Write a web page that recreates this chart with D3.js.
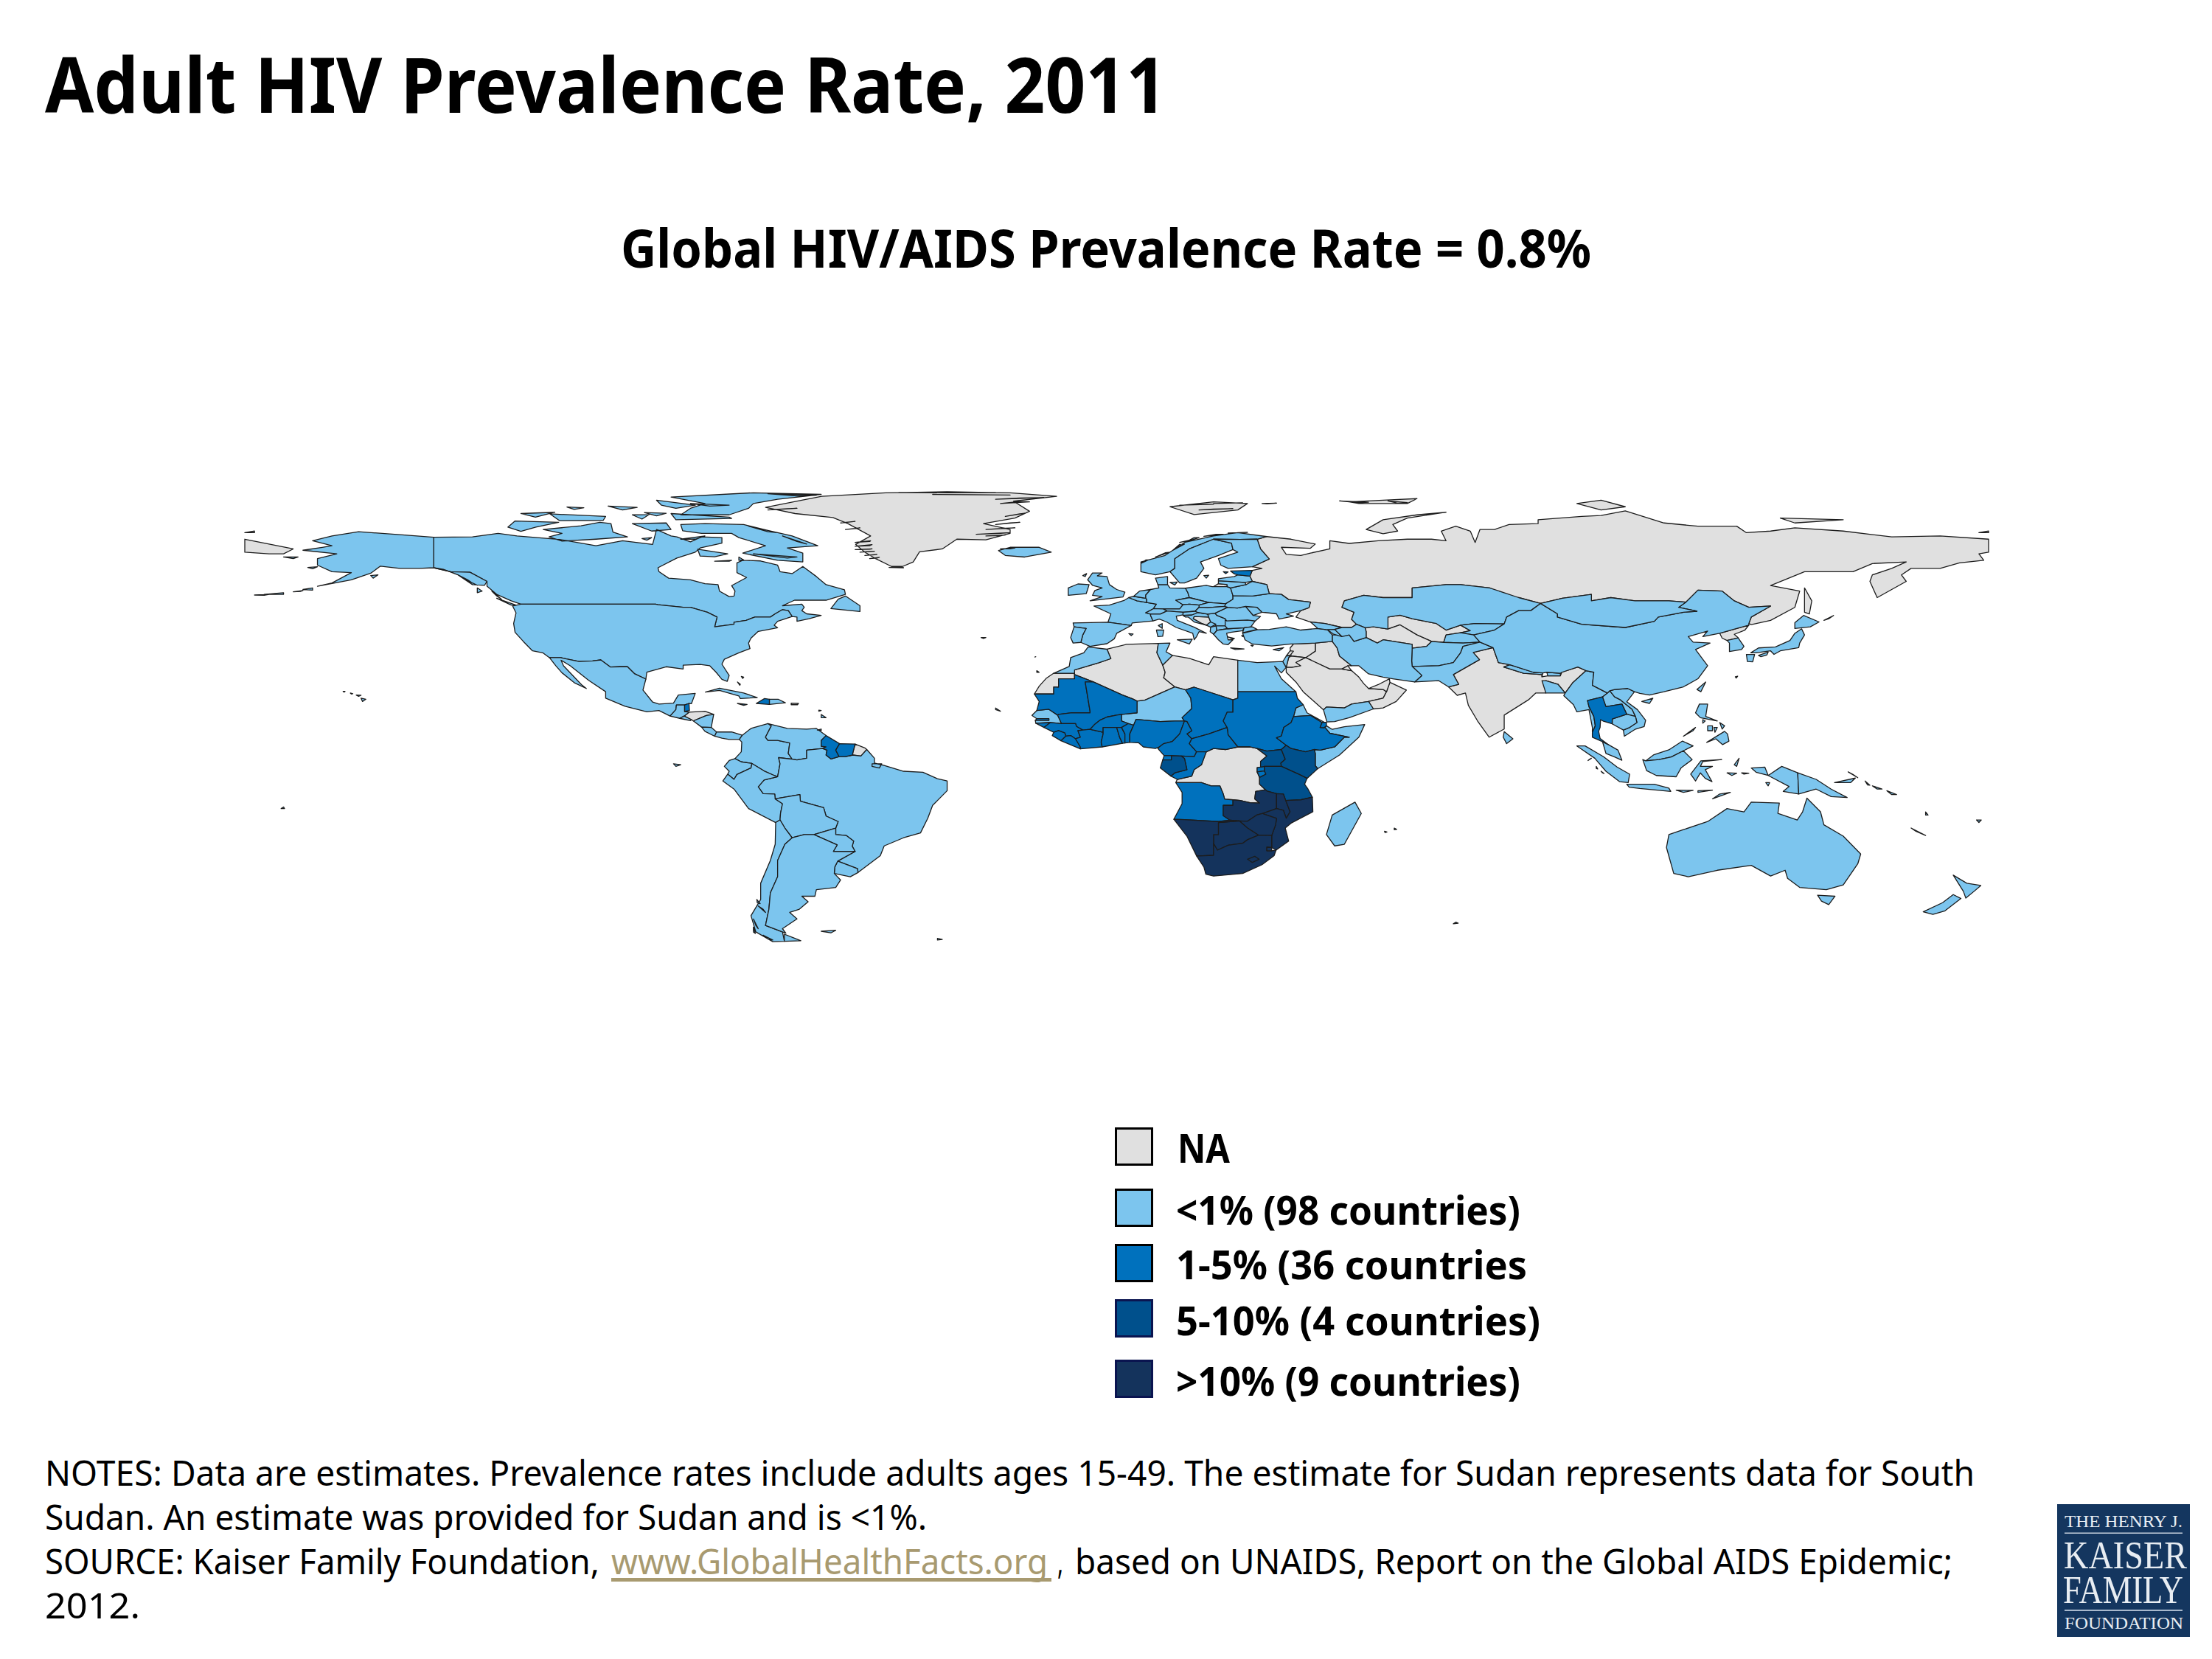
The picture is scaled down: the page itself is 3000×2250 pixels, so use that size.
<!DOCTYPE html>
<html><head><meta charset="utf-8"><title>Adult HIV Prevalence Rate, 2011</title>
<script src="https://cdn.jsdelivr.net/npm/d3@7"></script>
<style>html,body{margin:0;background:#fff}svg{display:block}</style></head><body>
<svg id="c" width="3000" height="2250" viewBox="0 0 3000 2250"></svg>
<script>
const naShapes = [
["Greenland","-72.5,78.8 -65,81 -60.9,82.2 -47.7,83.3 -35,83.6 -22,83.3 -12.4,82.2 -21.3,80.7 -18,77.6 -21,75.5 -27.5,73.8 -22,72 -22,70.8 -27,68.8 -33,69 -36,66 -40.7,65.1 -42,62 -44.2,60.6 -46.5,60.6 -50,63.2 -52,65 -53.9,67.4 -50.8,70 -55.5,73.8 -58.6,75.7 -66.4,76.9|-29,70.5 -22,71 -24,70.8|-27,72 -21,72.5 -23,72.4|-25,73.5 -20,74.2 -22,74|-23,76 -19,77 -20,76.8|-24,80 -18,80.5 -20,80.6|-25,81.3 -15,81.8 -20,81.7|-45,83.4 -25,83.4 -35,83.3|-38,82.8 -22,82.6 -30,82.7|-54,66.8 -50.5,67.3 -51,67|-54,68 -50.8,68.5 -51,68.3|-54,65.8 -50.5,66 -51,65.9|-53,65 -50,65.3 -51,65.2|-52,64 -49.5,64.3 -50,64.2|-51,63 -49,63.4 -49.5,63.2|-56,72 -53,72.5 -54,72.3|-57,74 -54,74.5 -55,74.3|-47,60.3 -44,60.2 -45,60.5|-27,70 -23,70.3 -24,70.1|-72,78 -66,78.5 -68,78.4"],
["Russia","31,69.8 36,69 41,67.5 40,66.2 34,66.5 35,64.3 38,64 40,64.7 44,66 44,68.5 48,67.7 54,68.5 60,69 65,69 68,68.5 67,71.5 70,73 73,71.5 74,68 75,72 78,72 81,73.5 87,73.8 87,75 96,76 100,76.3 105,77.7 113,74 120,73 128,73 130,71 135,71.5 140,72.5 150,71.5 160,69.7 170,70 180,69 180,65 178,64.5 179,62.5 174,61.7 170,60 164,60 162,58 163,56 157,51 155.5,56 156,58 160,60 163,62 156,61.5 152,59 142,59 135,54.7 141,53 140,48 135,44 131,42.7 130.5,43 131,45 135,48.4 130.5,48 127.5,50 125,53 120,53.3 117.5,49.6 114,50 107,50 102,51 98,50 98,52 92,50.8 87.5,49.2 83,51 80,51 77,54 71,55 68,55 61,54 61,51 55,51 51,51.7 47,50 46.5,48 49,46.5 48.5,44.3 49.5,42.8 48.5,41.8 46.5,41.8 43,43 40,43.5 37,45 38,47 39.7,47.9 40,49.6 35.5,50.4 34,52 31.5,52.2 31,55 28,56 27.5,57.6 28,59.4 30,60 28,60.5 31.5,62.9 29.7,66 29,69|-180,65 -175,64.5 -172,64.5 -170,66 -175,67.5 -180,69|20,54.4 22.8,54.4 22.8,55 21,55.3|142,54 143.5,50 143,46 142,46.5 142,52|51.5,72 55,75 62,76.5 68,77.3 60,75.5 57,73.5 58,71.5 55,70.7|48,80.5 55,81 62,81.5 60,80 50,80|46,80.8 52,80.4 50,80.2|56,80.8 60,80.3 58,80.1|95,80 100,81 105,79 100,78|137,75.5 150,75 140,74|-180,71 -178,71.5 -178,71|178,71 180,71.5 180,71"],
["Svalbard","11,79 16,76.6 25,78 27,80 20,80.5|13,79.5 20,79.8 16,79.6|17,78 24,78.4 20,78.3|20,80 26,80.2 23,80.1|30,80 33,80.1 31,79.9"],
["Honduras","-89.3,14.5 -88.3,15.7 -85,16 -83.2,15 -84.7,14.7 -86,13.9 -87.4,13 -87.8,13.4"],
["French Guiana","-54,5.9 -52,4.7 -51.6,4.2 -52.8,2.2 -54.5,2.5 -54.5,3"],
["Puerto Rico","-67.2,18.5 -65.7,18.4 -65.9,18 -67.2,18"],
["W. Sahara","-13,27.7 -8.7,27.7 -8.7,26 -12,26 -12,23.4 -13,23.5 -13,21.3 -17,21.3 -16,23.7 -14.5,26.2"],
["Algeria","-8.7,27.7 -8.7,28.7 -3.7,30.9 -1.2,32.2 -2,35.1 2,36.6 8.6,36.9 8.3,34 9.5,30.2 10,28 9.7,26.3 12,23.5 5.8,19.4 4.2,19.1 3.3,19.8 1.2,21 -4.8,25 -8.7,27.3"],
["Libya","11.5,33.2 15,32.3 19,30.3 20,32.8 25,31.7 25,20 24,19.5 16,23.4 14.2,22.6 12,23.5 9.7,26.3 10,28 9.5,30.2"],
["DR Congo","12.2,-6 12.5,-5 14,-4.5 15.5,-4 16,-2 17.5,-0.5 18,1.5 18.5,3.5 20,4.5 22.5,4.2 25,5 27.5,5 29,4.5 31,2.2 29.7,0.5 29.7,-1.2 29,-1.4 29,-2.7 29.5,-4.4 29.5,-6.5 30.7,-8.2 28.7,-8.7 28.5,-11 29.5,-12.3 27.5,-12.2 25.5,-11.5 24,-11.3 22.3,-11.1 22,-9.5 21.3,-7 19.5,-7 17.5,-6"],
["Bosnia","16,45.2 19,45 19.4,43.5 18.5,42.5 17.6,43 15.8,44.5"],
["Uzbekistan","56,45 58.5,45.6 61,44.5 66,43 68,41 71,42.5 73,40.8 71,40.2 68,39.5 67.5,37.2 65,37.5 62,39.5 58.5,42.6 56,41.3"],
["Turkmenistan","51.3,41.7 53,42 56,41.3 58.5,42.6 62,39.5 65,37.5 64,36 61,35.4 61,36.6 55,38 53.8,37 51.5,38.7 51.5,40.5"],
["Iraq","39,32.5 41,34.5 41,37 44.5,37.5 45.5,35.5 46,33 48.5,30 47.7,30 46.5,29 44,29"],
["Syria","36,33 39,32.5 41,34.5 41,37 36.5,36.7 35.8,35.5"],
["Jordan","35,29.5 35.5,32.5 36,33 39,32.5 37,31 38,30 36.2,29.5"],
["Lebanon","35,33 35.8,33.2 36.5,34.5 35.8,34.6"],
["Saudi Arabia","35,29.5 36.2,29.5 38,30 37,31 39,32.5 44,29 46.5,29 48.5,28.5 50,26.5 51,24.5 52,23 55,22.7 55.7,22 55,20 52,19 48.5,18.2 47,17 43.3,17.3 42.7,16.4 40,20 38.5,22 37,25 35,28"],
["Oman","52,19 55,20 55.7,22 56.4,24.9 59.8,22.5 57.7,19 55,17 53,16.7"],
["UAE","52,23 55,22.7 55.7,22 56.4,24.9 56.3,26 54,24.2"],
["Kuwait","47.7,30 48.5,28.5 46.5,29"],
["India","68.5,23.5 70.3,20.9 72,21.6 72.6,17.8 74.5,13 76.9,8 80,10.5 80,14.8 85,19.5 86.5,21.6 88.6,21.6 88.5,24.5 88.6,25.4 91.1,24.3 92.6,21.6 94.1,24.7 96.9,28.5 95.2,29.6 91.9,28 91.6,26.9 89,26.9 87.8,26.6 87.8,27.3 84,27.7 79.9,29.6 81.2,30.3 78.8,31 77.7,35.6 73.6,34.1 74.9,31.9 69.5,27.3 70.6,24.3"],
["N. Korea","124.5,40 128,41.5 130.5,42.5 129.7,41 127.5,39.7 128.3,38.6 126,37.8 125,38.5"]
];
const underOneShapes = [
["Canada","-141,69.6 -133,69.7 -127.7,70.8 -123.8,70 -115,68.9 -107.5,67 -102,68.5 -95.8,67.4 -95,72 -92,70 -90.8,69.7 -88,68.2 -85.7,69.7 -81.5,69.5 -81.5,67.8 -86,66.3 -87,65 -90.8,63.2 -94.7,60.2 -94.5,59 -92.5,57 -88,56.5 -85,55.3 -82.3,55 -82,53 -80,51.3 -79,51.5 -78.8,53 -79.5,54.7 -76.4,57.2 -78.4,58.7 -78.4,61.7 -77.2,62.5 -73.5,62.3 -70,61 -69.5,59 -67,58.4 -64.8,60.6 -62,57.5 -60,55 -56.2,53.4 -56,52 -60,50.2 -66.5,50.2 -69,48.5 -65,49 -64.5,48 -65,47 -64,46 -61,45.5 -63.5,44.5 -66,43.7 -66,45 -67,45.2 -67.8,47 -69,47.3 -70.5,46 -71.5,45 -74.7,45 -76.5,44 -79,43.4 -79,42.8 -83,42 -82.5,45 -84.5,46.5 -88,48 -89.5,48 -94.7,48.8 -95.2,49 -123,49 -125,50 -128,52 -130,54.5 -130,56 -133.5,58.8 -137.5,59 -141,60.2|-90,73.5 -85,73.8 -77,73.5 -72,71.7 -67,70 -61.7,67 -68,66.3 -64.8,64.7 -64.8,62 -70,62.5 -77.2,64.7 -72.5,67 -78,69.5 -79.5,70.8 -85.7,70.8 -89.6,71.6|-118.4,72 -110.6,73.1 -106.7,74.2 -104.4,73.8 -104,71.2 -101,69.7 -107.5,69 -114.5,68.4 -117.2,69.7 -114.5,70.8|-125.7,72.7 -124.2,74.6 -115.2,74.2 -119.9,72.7 -123,71.4|-92,82 -75,83.3 -61,82.8 -70,81.3 -75,80 -76,78.5 -80,76.5 -90,76.5 -88,78.5 -85,80|-92,76.9 -80,75.8 -79.5,75.4 -91,75|-95,81 -87,79.5 -91,78.5 -94,79.5|-117,76.8 -105.5,76 -106,74.8 -115,74.7|-123,76.9 -116,77.3 -120,75.8|-86.5,65.9 -80.3,64.5 -83,63.6 -86,63.8|-59,47.6 -53,46.7 -53,48.5 -56,51.5 -57.5,50.5|-128,50.8 -123.5,48.4 -125,48.7|-100,73.8 -93,74 -92,72 -96,71.5|-105,79.2 -99,78.8 -102,78|-113.5,78.9 -110,78.7 -112,78.2|-97.5,77.2 -93,77 -95,76.2|-100,76.5 -96.5,76.6 -98,75.2|-90,69 -85,70 -87,69|-132,54 -131,53 -132,52.5|-76,73 -70,71 -72,71.3|-69,70 -64,67.5 -66,68.3|-75,64.5 -66,63.5 -68,63.2|-129,53 -127,50.5 -128,51.5|-96,69.5 -97,68.7 -98,69.2|-78,63.5 -77,62.6 -78,62.5|-80,62.2 -79.5,62.5 -83,62.2|-72,83 -62,82.5 -66,82.3|-88,80 -80,79.5 -84,79.2"],
["USA","-123,49 -95.2,49 -94.7,48.8 -89.5,48 -88,48 -84.5,46.5 -82.5,45 -83,42 -79,42.8 -79,43.4 -76.5,44 -74.7,45 -71.5,45 -70.5,46 -69,47.3 -67.8,47 -67,45.2 -70,43.7 -70.7,42.5 -70,41.7 -74,40.6 -75.5,38.5 -76,37 -75.7,35.3 -78,34 -81,32 -81.5,30.5 -80,27 -80.4,25.2 -81.5,25.8 -82.7,28 -84,30 -86,30.4 -89.5,30.2 -89.5,29 -93,29.7 -97,28 -97.2,25.9 -99.5,27.5 -101,29.7 -102.5,29.7 -104.5,29.6 -106.5,31.8 -108.2,31.5 -111,31.3 -114.8,32.5 -117.1,32.5 -118.5,34 -120.6,34.6 -122.5,37.5 -124.2,40.3 -124.5,43 -124,46.3 -124.7,48.4|-141,60.2 -141,69.6 -148,70.4 -156.5,71.3 -162,70 -166,68.5 -162,67 -164,66.5 -168,65.6 -161,64.5 -165,63 -165,61 -162,59 -158,58.7 -162,55.5 -165,54.5 -158,56.5 -154,58.5 -152,60.7 -148,60 -144,60 -141,60.2 -137.5,59 -133.5,58.8 -130,56 -130.5,54.8 -133,55 -136,58 -139,59.7|-176,52 -172,52.5 -172,52|-168,53.5 -166,54 -166,53.3|-170,52.8 -168,53.2 -168.5,52.9|-178,51.8 -175,52 -176,51.7|-154,57.8 -152.5,58 -153.5,57|-156,20 -155,19.7 -155.7,19|-158.2,21.6 -157.7,21.4 -158,21.3|-157,21 -156,20.9 -156.5,20.6|-159.7,22.1 -159.3,22.1 -159.5,21.9|-172,63.5 -169,63.5 -170,63|-136,58 -133,55.5 -134,56.5|-135,57 -132,54.8 -133,55.5|-167,60.3 -165,60.5 -166,59.9"],
["Mexico","-117.1,32.5 -114.8,32.5 -111,31.3 -108.2,31.5 -106.5,31.8 -104.5,29.6 -102.5,29.7 -101,29.7 -99.5,27.5 -97.2,25.9 -97.8,22.5 -95.8,18.8 -94.5,18.2 -91.5,18.5 -90.5,21 -87,21.5 -87.8,18.3 -88.3,18.4 -89.2,17.9 -90.9,17.9 -91,16.5 -92.2,14.5 -94.5,16.2 -97,15.8 -101.5,17.5 -105.5,20 -105.5,22 -109,25.5 -112.8,30 -114.7,31.7 -114.2,30 -110.5,24.2 -109.5,23 -112,24.8 -114.5,27.8 -115.8,30"],
["Guatemala","-92.2,14.5 -91,16.5 -90.9,17.9 -89.2,17.9 -89.2,15.9 -88.3,15.7 -89.3,14.5 -90.2,13.8"],
["El Salvador","-90.2,13.8 -89.3,14.5 -87.8,13.4 -88,13.1"],
["Nicaragua","-87.4,13 -86,13.9 -84.7,14.7 -83.2,15 -83.7,11 -85.7,11.1"],
["Costa Rica","-85.7,11.1 -83.7,11 -82.6,9.6 -83,8.3 -85,9.8"],
["Panama","-83,8.3 -82.6,9.6 -79.5,9.6 -77.3,8.6 -77.9,7.3 -80,7.3 -81.5,7.7"],
["Cuba","-84.9,21.9 -82,23.1 -77,21.6 -74.2,20.2 -77.7,19.9 -78,20.7 -82,22.4"],
["Dominican Rep.","-71.7,19.7 -69.9,19.7 -68.4,18.6 -71.7,18.1"],
["Colombia","-77.3,8.6 -75.5,10.7 -72,12.2 -71.3,11.5 -72.5,8 -72,7 -70,7 -67.5,6.2 -67.8,3 -67,1.2 -69.8,1.7 -69.5,-0.2 -70,-4.2 -70.7,-3.8 -72.8,-2.4 -75.3,-0.1 -77.5,0.4 -78.8,1.4 -77.5,3.5 -77.4,6.5 -77.9,7.3"],
["Venezuela","-72,12.2 -68,10.7 -64,10.5 -62,10.7 -60,8.5 -61,7 -61,5.2 -60,5 -60.7,4.5 -64,4 -64,1.5 -66,1 -67,1.2 -67.8,3 -67.5,6.2 -70,7 -72,7 -72.5,8 -71.3,11.5"],
["Brazil","-51.6,4.2 -50,1.5 -50,0 -48,-0.7 -44,-2.5 -40,-2.8 -37,-4.8 -35,-5.5 -35,-8.5 -38,-13 -39,-17 -40.5,-21.5 -44,-23 -48,-25.5 -48.8,-28.5 -53.4,-33.7 -53.5,-32.5 -57.6,-30.2 -54,-27.2 -54.6,-25.6 -54.3,-24 -55.8,-22.3 -58,-22 -58,-20 -57.5,-18 -60,-16.3 -60.5,-13.7 -65.3,-11.7 -65.4,-9.7 -70.5,-11 -70.6,-9.5 -73,-9.4 -74,-7.3 -72.8,-5.2 -70,-4.2 -69.5,-0.2 -69.8,1.7 -67,1.2 -66,1 -64,1.5 -64,4 -60.7,4.5 -59.8,4 -60,2.5 -59,1.3 -57.3,2 -56,2 -54.5,2.5 -52.8,2.2|-50.5,-0.2 -48.5,-0.2 -49,-1.5 -50.5,-1"],
["Ecuador","-78.8,1.4 -77.5,0.4 -75.3,-0.1 -75.5,-1.5 -78.4,-3.5 -79,-5 -80.3,-3.4 -80,-2.5 -81,-1 -80,0.8"],
["Peru","-80.3,-3.4 -79,-5 -78.4,-3.5 -75.5,-1.5 -75.3,-0.1 -72.8,-2.4 -70.7,-3.8 -70,-4.2 -72.8,-5.2 -74,-7.3 -73,-9.4 -70.6,-9.5 -70.5,-11 -69,-12.5 -69.4,-15.5 -69.5,-17.5 -70.4,-18.3 -76,-14 -79,-8 -81.3,-5.5"],
["Bolivia","-69.5,-17.5 -69.4,-15.5 -69,-12.5 -70.5,-11 -65.4,-9.7 -65.3,-11.7 -60.5,-13.7 -60,-16.3 -57.5,-18 -58,-20 -62.5,-22 -64.5,-22 -67,-23 -68.5,-20"],
["Paraguay","-58,-20 -58,-22 -55.8,-22.3 -54.3,-24 -54.6,-25.6 -54,-27.2 -58.5,-27.2 -57.7,-25.2 -62.5,-22"],
["Uruguay","-57.6,-30.2 -53.5,-32.5 -53.4,-33.7 -55,-35 -58.3,-34 -58.2,-32"],
["Chile","-70.4,-18.3 -69.5,-17.5 -68.5,-20 -67,-23 -68.5,-25 -70,-30 -70,-35 -71.5,-40 -71.8,-45 -72.5,-50 -69,-52 -68.6,-54.9 -71,-55 -74.5,-52 -75.5,-47 -73.5,-42 -73.5,-37 -71.5,-30 -70.5,-25|-74,-44 -72.5,-46 -73,-45|-75,-48 -74,-51 -74.5,-50|-73,-53 -71,-54.5 -72,-54.2|-75,-50.5 -74.6,-52.5 -75,-52|-74.3,-42 -73.6,-43.3 -74.2,-43"],
["Argentina","-67,-23 -64.5,-22 -62.5,-22 -57.7,-25.2 -58.5,-27.2 -54,-27.2 -57.6,-30.2 -58.2,-32 -58.3,-34 -57,-36 -58,-38.3 -62,-39 -62.3,-41 -65,-41 -63.7,-42.7 -65.5,-45 -67.5,-46 -66,-48 -69,-51 -68.3,-52.4 -69,-52 -72.5,-50 -71.8,-45 -71.5,-40 -70,-35 -70,-30 -68.5,-25|-68.6,-52.7 -65.2,-54.7 -68.6,-54.9"],
["Falklands","-61,-51.8 -58,-51.5 -59,-52.3"],
["Iceland","-24.4,65.5 -22,66.5 -16,66.5 -13.5,65 -19,63.5 -23,64|-24,66 -21,66.3 -22,66"],
["UK","-5.5,50 1.3,51.2 1.7,52.7 0,53.5 -1.5,55 -2,57.5 -4,57.7 -3,58.6 -5,58.6 -6,56.5 -5,54.8 -3,54 -4.5,53.2 -5,51.7 -3,51.3|-7,57.8 -6.2,58.4 -6.5,57.5"],
["Ireland","-10,51.7 -6.3,52.2 -6,53.5 -5.7,55 -8,55.2 -10,54"],
["France","-1.8,43.4 -1.2,46 -4.7,48.4 -1.5,48.7 1.5,50.1 2.5,51 4.2,50 6.2,49.5 8.2,49 7.6,47.6 6,46.3 7,45.9 7,45.5 7.5,43.8 3.2,43.2 3,42.4|8.6,42.4 9.4,43 9.4,41.5"],
["Spain","-9,43.2 -1.8,43.4 3,42.4 0,40 -0.5,38.3 -2,36.8 -5.5,36 -7.4,37.2 -7,39.5 -6.3,41.5 -8.8,42|2.5,39.9 3.4,39.8 3,39.3"],
["Portugal","-8.8,42 -6.3,41.5 -7,39.5 -7.4,37.2 -9,37 -9.5,38.7"],
["Belgium","2.5,51 3.5,51.4 6,50.8 6.2,50.5 6.2,49.5 4.2,50"],
["Netherlands","3.5,51.4 4.7,53 7,53.5 6,51.8 6,50.8"],
["Germany","6,51.8 7,53.5 8.7,54 8.5,55 10.5,55 11,54 14.2,53.9 14.7,52.5 15,51 12.2,50.2 13.7,48.8 13,47.5 9.6,47.5 7.6,47.6 8.2,49 6.2,49.5 6.2,50.5 6,50.8"],
["Poland","14.2,53.9 18.5,54.8 19.7,54.4 22.8,54.4 23.5,54 24,51.6 24,50.5 22.5,49.1 19,49.5 15,51 14.7,52.5"],
["Czech Rep.","12.2,50.2 15,51 19,49.5 17,48.7 15,49 13.7,48.8"],
["Slovakia","17,48.7 19,49.5 22.5,49.1 22.3,48.3 18.8,47.9 17,48"],
["Austria","9.6,47.5 13,47.5 13.7,48.8 15,49 17,48.7 17,48 16.2,46.8 13.7,46.5 10.4,46.9"],
["Switzerland","6,46.3 7.6,47.6 9.6,47.5 10.4,46.9 9,45.9 7,45.9"],
["Italy","7,45.5 7,45.9 9,45.9 10.4,46.9 13.7,46.5 13.7,45.7 12.3,45.3 12.5,44 16,41.9 18.5,40 17,40.5 16.5,39 16,38 15.7,40 12.3,41.8 10.3,43.5 8.8,44.4 7.5,43.8|12.5,38 15.6,38.2 15,36.7|8.2,41 9.7,41 9.5,39.1 8.5,39"],
["Slovenia","13.7,46.5 16.2,46.8 16.8,46.4 15.5,45.6 13.7,45.5"],
["Croatia","13.7,45.5 15.5,45.6 16.8,46.4 18.8,45.9 19,45 16,45.2 15.8,44.5 17.6,43 18.5,42.5 16,43.5 14.8,45 14.2,45"],
["Serbia","18.8,45.9 20.3,46.2 20.7,45.5 22.4,44.5 22.7,43.8 22.4,42.3 20.5,42.3 19.4,43.5 19,45"],
["Montenegro","18.5,42.5 19.4,43.5 20.5,42.8 19.4,41.9"],
["Albania","19.4,41.9 20.5,42.3 20.7,40.9 20,39.7 19.3,40.5"],
["Macedonia","20.5,42.3 22.4,42.3 22.9,41.4 20.7,40.9"],
["Greece","20,39.7 20.7,40.9 22.9,41.4 26.3,41.7 26,40.8 23.5,40.3 22.7,40 23,38 24,38 23,36.5 22,36.7 21,38|23.5,35.5 26.3,35.2 24.5,35|25.8,39.3 26.5,39.2 26,39|23,38.9 24.3,38.4 24,38.2|27.7,36.3 28.2,36.3 28,36"],
["Cyprus","32.3,35 34.5,35.6 33.5,34.6"],
["Bulgaria","22.4,44 27,44.1 28.6,43.8 27.7,42 26.3,41.7 22.9,41.4 22.4,42.3"],
["Romania","20.3,46.2 22.9,48 24.9,47.8 26.6,48.3 28.2,45.5 29.7,45.2 28.6,43.8 27,44.1 22.7,43.8 22.4,44.5 20.7,45.5"],
["Hungary","16.2,46.8 17,48 18.8,47.9 22.3,48.3 22.9,48 20.3,46.2 18.8,45.9 16.8,46.4"],
["Moldova","26.6,48.3 29,48 30,46.5 28.2,45.5"],
["Ukraine","24,51.6 28,51.5 31.5,52.2 34,52 35.5,50.4 40,49.6 39.7,47.9 38,47 35,46 36.5,45.3 33.5,44.4 33,46 30.7,46.4 30,46.5 29,48 26.6,48.3 24.9,47.8 22.9,48 22.3,48.3 22.5,49.1 24,50.5"],
["Belarus","23.5,54 26.7,55 28,56 31,55 31.5,52.2 28,51.5 24,51.6"],
["Lithuania","21,56.2 26.5,55.7 26.7,55 23.5,54 22.8,54.4 22.8,55 21,55.3"],
["Latvia","21,56.8 24.3,57.5 25,58 27.5,57.6 28,56 26.5,55.7 21,56.2"],
["Norway","5,59 5,62 10,64 14,68 20,70 25,71 31,69.8 29,69 25.5,68.9 20,69 15,66 12,63 12,60 11,59 8,58|5,61.5 6.5,62.6 6,62.6|8,63.5 11,65 10,64.8|11.5,65.5 14,67.5 13,67.4|14.5,68.3 17,69.5 16,69.5|18,69.9 22,70.5 20.5,70.5|23,70.9 27,71.1 25,71|13,68 16,68.9 15,68.7"],
["Sweden","11,59 12,60 12,63 15,66 20,69 23.7,67.8 24,65.8 21,64 17.3,62 18,60 16.5,57 14,55.5 13,55.5|18,57.8 19,57.9 18.5,57"],
["Finland","20,69 25.5,68.9 29,69 29.7,66 31.5,62.9 28,60.5 23,60 21.5,61 21,63 25,65 24,65.8 23.7,67.8"],
["Denmark","8,57 10.5,57.5 10.5,55 8.5,55|11,55.7 12.5,55.8 12,54.9"],
["Morocco","-5.9,35.8 -2,35.1 -1.2,32.2 -3.7,30.9 -8.7,28.7 -8.7,27.7 -13,27.7 -9.8,29.8 -9.5,32.5 -6.8,34"],
["Tunisia","8.6,36.9 11,37 10.2,34.3 11.5,33.2 9.5,30.2 8.3,34"],
["Egypt","25,31.7 29,31 32.5,31.2 34.3,31.3 35,29.5 34,27.8 32.6,29.9 34,26 37,22 25,22"],
["Niger","4.2,19.1 5.8,19.4 12,23.5 14.2,22.6 15.3,20 15.5,16.8 13.5,14 14,13 12,13 9,12.8 4,13.5 3.5,11.7 2.4,12.2 1,13 1,15 4.2,15.5"],
["Eritrea","37,17 38.5,18 39.3,15.5 43,12.5 42.4,12.5 40,14.7 37,14.4 36.5,14.3"],
["Somalia","43.3,11.5 44.5,10.4 47,11.2 51.2,11.9 50,8 46,2.5 41.5,-1.7 41,-0.8 41,3 40.8,4.2 42,4 45,5 47,8 48,8 44,9.2 43,11"],
["Senegal","-16.5,16.2 -14,16.6 -12.2,14.8 -11.4,12.2 -13.7,12.5 -16.7,12.3 -16.8,13.2 -14,13.2 -14,13.7 -16.5,13.7 -17.5,14.7"],
["Madagascar","49.2,-12 50.5,-15.5 47,-25 45,-25.5 43.3,-22 44.5,-16"],
["Kazakhstan","46.5,48 47,50 51,51.7 55,51 61,51 61,54 68,55 71,55 77,54 83,51 87.5,49.2 85.5,47 83,47 80.5,45 80,42.9 74,43 71,42.5 68,41 66,43 61,44.5 58.5,45.6 56,45 56,41.3 53,42 51.3,41.7 49.5,42.8 48.5,44.3 49,46.5"],
["Kyrgyzstan","71,42.5 74,43 80,42.9 78,41 73.7,39.5 71,40.2 73,40.8"],
["Tajikistan","68,39.5 71,40.2 73.7,39.5 75,37.3 71.5,37 67.5,37.2"],
["Afghanistan","61,35.4 64,36 65,37.5 67.5,37.2 71.5,37 75,37.3 71.5,36 71,34 69.5,31 66.5,30 61,29.8 60.9,31.5"],
["Pakistan","61,29.8 66.5,30 69.5,31 71,34 71.5,36 75,37.3 77.7,35.6 73.6,34.1 74.9,31.9 69.5,27.3 70.6,24.3 68.5,23.5 66.5,25.4 61.5,25 63,27"],
["Iran","44.5,39.5 48,39.5 49,37.5 51.5,38.7 53.8,37 55,38 61,36.6 61,35.4 60.9,31.5 61,29.8 63,27 61.5,25 57,26 55,26.5 52,27.5 50,30 48.5,30 46,33 45.5,35.5 44.5,37.5"],
["Israel","34.3,31.3 35,29.5 35.5,32.5 35.8,33.2 35,33"],
["Yemen","43.3,17.3 47,17 48.5,18.2 52,19 53,16.7 48,14 45,12.8 43.4,12.7 42.7,16.4"],
["Turkey","26,40 26.5,38 28,36.7 32,36.1 36,36.7 36.5,36.7 41,37 44.5,37.5 44.5,39.5 43.5,41.1 41.5,41.5 38,41 35,42 31.5,41.2 29,41.1|26,40.2 26.3,41.7 28,42 29,41.2"],
["Georgia","40,43.5 43,43 46.5,41.8 45,41.2 43.5,41.1 41.5,41.5"],
["Armenia","43.5,41.1 45,41.2 46.5,39 44.8,39.7"],
["Azerbaijan","45,41.2 46.5,41.8 48.5,41.8 49.5,42.8 51.3,41.7 51.5,40.5 51.5,38.7 49,37.5 48,39.5 46.5,39"],
["Nepal","79.9,29.6 84,27.7 87.8,27.3 87.8,26.6 88,27.8 86,28 81.2,30.3"],
["Bhutan","88.8,28 91.6,27.7 91.6,26.9 89,26.9"],
["Bangladesh","87.8,25.4 88.6,25.4 91.1,24.3 92.6,21.6 88.6,21.6"],
["Sri Lanka","79.8,8 80,9.7 81.8,7.5 80.5,6"],
["Myanmar","92.3,20.8 92.6,21.6 94.1,24.7 96.9,28.5 98.5,28 98.2,24 101.3,21.6 100.3,20.4 97.2,19.3 97.5,17.4 98.5,14.4 98.8,11.5 98.2,9.5 98.2,11 97.5,16.5 95,15.8 94.3,18"],
["Laos","101.3,21.6 101.8,22.3 102.8,20.4 104,19.5 106.4,16.6 107.1,14.4 105.3,15.1 104.3,18.2 101,17.4 100.3,20.4"],
["Vietnam","101.8,22.3 102.8,22.7 105.5,23 106.9,22 105.3,18.9 107.5,16.5 109.2,13.2 108.9,11.3 107,10.4 104.8,8.3 104.6,10.2 105.9,11 107.4,12.5 107.1,14.4 106.4,16.6 104,19.5 102.8,20.4"],
["Cambodia","102.3,13.6 105.3,15.1 107.1,14.4 107.4,12.5 105.9,11 104.6,10.2 102.3,12.1"],
["Malaysia","100.3,6.6 101.5,5.7 103.5,4 104.3,0.9 102.8,1.9 101,3|109.2,0.7 112,1.1 114.5,1.9 117,3.8 119,5.3 116.8,6.8 114,4.1 110.9,2.6"],
["Indonesia","108.6,1.1 109.2,0.7 112,1.1 114.5,1.9 117,3.8 118.8,1.1 116.5,-1.5 115.5,-4.2 111.4,-3.8 109.4,-2.3|95,5.3 96.7,5.3 100.5,2 103.3,-1.2 105.9,-3.4 105.6,-6 103.8,-5.7 101,-2.5 98.7,1.5|105.3,-6.5 108.5,-6.5 111,-6.5 114,-7.7 114.4,-8.7 108,-7.8 105.8,-7.4|118.5,-3.4 120.6,0.7 124.9,1.1 121,0.5 120.5,-1 123,-1 121.5,-2 122.9,-5.7 121.5,-4.7 120.5,-3 119.5,-5.5|131,-1.5 133.8,-1.2 134.5,-3.8 137.3,-1 140.6,-3 140.8,-9.5 137.6,-8.7 138.8,-7.2 134.5,-3.8 132,-2.8|115.5,-8.3 119,-8.4 117,-9|120,-8.5 123,-8.3 120,-9|123,-11 126.7,-9 124.5,-9.5|127.5,-0.5 128.5,1.5 128,-1|126,-3 128,-3.1 127,-3.8|129,-3 130.5,-3.1 129.5,-3.4|134,-6 134.8,-6 134.5,-7|98,1.5 97.3,0.8 97.6,1.2|99,-1 99.3,-1.8 99,-1.6|100,-2.5 100.6,-3.2 100.3,-3"],
["Papua New Guinea","140.6,-3 144.4,-5 147.5,-8 150.8,-10.6 147.5,-10.3 144.4,-8 140.8,-9.5|148.2,-6 152.5,-4.6 151.5,-6|151,-2.7 153,-4.5 152,-3.5|154.5,-5.5 155.5,-6.8 155,-6.7"],
["Philippines","119.5,15.5 120.3,18.2 122,18.2 121.6,14.4 124,13 120.5,14|121.8,6.4 125.5,9.8 126.1,9 126.4,6.8 125.1,5.7 123.7,7.5|122,11.5 123,11.5 123,10 122,10|124.5,12.5 125.5,11.5 125,10.5|117,8.3 119.5,11 119,10|121,13.4 121.5,13 121,12.3|123.3,11 124,11 123.5,9.5"],
["China","73.7,39.5 78,41 80,42.9 80.5,45 83,47 85.5,47 87.5,49.2 91,46 91,45 96,42.8 105,41.8 111,43.7 111.8,45 117,46.5 119.8,46.8 116,48 117.5,49.6 120,53.3 125,53 127.5,50 130.5,48 135,48.4 131,45 130.5,43 130.5,42.5 128,41.5 124.5,40 121,39 122,40.7 118,39 119,37.3 122.5,37 119.5,35 121,32 122,30 120,26 117,23.5 113,22 110,21 108,21.5 106.9,22 105.5,23 102.8,22.7 101.8,22.3 101.3,21.6 98.2,24 98.5,28 96.9,28.5 95.2,29.6 91.9,28 91.6,27.7 88.8,28 88,27.8 86,28 81.2,30.3 78.8,31 77.7,35.6 75,37.3|108.4,19 110.7,20 110,18.4"],
["Mongolia","87.5,49.2 92,50.8 98,52 98,50 102,51 107,50 114,50 117.5,49.6 116,48 119.8,46.8 117,46.5 111.8,45 111,43.7 105,41.8 96,42.8 91,45 91,46"],
["S. Korea","126,37.8 128.3,38.6 129.5,36 129,35 126.5,34.4 126.5,37"],
["Japan","130.9,34 132.5,35.5 136,35.8 139,37.8 140,40 141.4,41.4 142,39.5 141,37 140.8,35.6 137,34.6 135.7,33.5 135,34.6 132,34|140,41.5 140,43.3 141.8,45.5 145,43.5 143.2,42|130,33.5 131.7,33.5 131.3,31.2 130.2,31.3|132.5,33.2 134.5,34.2 134.2,33.3 133,32.8|146,44 148,45.5 147,44.5|127.7,26.6 128.2,26.8 127.9,26.2"],
["Taiwan","119.8,22.7 121.6,25 120.6,22"],
["Australia","114,-22 113.5,-26 115,-34 118,-35 124,-33 131,-31.5 135,-34.8 138,-33 138.5,-35.5 141,-38.3 146.5,-39 150,-37.5 153,-31 153.6,-28 150,-22.5 146,-19 145.3,-15 142.5,-10.8 141.6,-15 140.5,-17.5 136.5,-15.5 136.8,-12.3 131,-12 129.5,-15 126,-14 122,-18 117,-20.5|144.7,-40.7 148.3,-41 147,-43.6 145.5,-42.5"],
["New Zealand","172.7,-34.5 175.5,-37 178.4,-37.7 177,-39.5 175.3,-41.6 174.8,-39.5|172.7,-40.5 174.3,-41.7 171,-45.5 168.5,-46.6 166.5,-45.8 170.5,-43"],
["Pacific islands","164,-20 167,-22.3 165,-21|156,-7 158,-8 157,-8|159,-8.5 161,-9.7 160,-9.7|167,-15 167.5,-16 167,-16|177.5,-17.5 178.5,-17.5 178,-18.3|-172,-13.5 -171.8,-14 -172.5,-14"],
["Atlantic & Indian islands","-16.5,28.5 -16,28 -16.5,28|-25,17 -24,16 -25,16.5|-28,38.7 -27,38.7 -27.5,38.4|-91.5,-0.2 -90,-0.5 -91,-1|57.3,-20 57.8,-20.4 57.3,-20.5|55.3,-21 55.8,-21.2 55.4,-21.4|70,-49 70.5,-49.3 69.5,-49.5|-37,-54 -36,-54.3 -37,-54.5|-16.7,32.8 -16.9,32.7|-60,14 -61,15 -61,14|-61.5,16.3 -61,16.2 -61.5,16|-61,10.5 -61,10 -61.8,10.2"]
];
const oneToFiveShapes = [
["Belize","-89.2,17.9 -88.3,18.4 -88.2,16.2 -89.2,15.9"],
["Haiti","-74.4,18.4 -72.7,19.9 -71.7,19.7 -71.7,18.1"],
["Jamaica","-78.3,18.4 -76.3,18.1 -77,17.8"],
["Bahamas","-78.3,25 -77.7,24.3 -77.8,24|-77.5,26.7 -77,26.5 -77.2,26.1"],
["Guyana","-60,8.5 -57.2,6 -58,4 -57.3,2 -59,1.3 -60,2.5 -59.8,4 -60.7,4.5 -60,5 -61,5.2 -61,7"],
["Suriname","-57.2,6 -54,5.9 -54.5,3 -54.5,2.5 -56,2 -57.3,2 -58,4"],
["Estonia","23.5,59.2 28,59.4 27.5,57.6 25,58 24.3,58.3|22,59 23,58.9 22.5,58.4"],
["Mauritania","-17,21.3 -13,21.3 -13,23.5 -12,23.4 -12,26 -8.7,26 -8.7,27.3 -4.8,25 -6.5,25 -5.5,16 -5.5,15.5 -9.5,15.5 -12,15 -12.2,14.8 -14,16.6 -16.5,16.2 -16,19"],
["Mali","-4.8,25 1.2,21 3.3,19.8 4.2,19.1 4.2,15.5 1,15 0,14.8 -2,14.2 -3.5,13.2 -4.5,12 -5.5,10.4 -7,10.2 -8.3,11.3 -8.5,12.2 -11.4,12.2 -12.2,14.8 -12,15 -9.5,15.5 -5.5,15.5 -5.5,16 -6.5,25"],
["Chad","14.2,22.6 16,23.4 24,19.5 24,15.7 22.8,15.7 22,13 22.8,11 19,9 15.5,7.5 14.5,9 15.5,10 14.5,12.8 14,13 13.5,14 15.5,16.8 15.3,20"],
["Sudan","25,22 37,22 37.3,20 38.5,18 37,17 36.5,14.3 36,12.5 34.5,11 34,8.4 33,7.8 35,5.5 34,4.2 31,3.7 29,4.5 27.5,5 25,5 23,8.7 22.8,11 22,13 22.8,15.7 24,15.7 24,19.5 25,20"],
["Ethiopia","36.5,14.3 37,14.4 40,14.7 42.4,12.5 42,11 43,11 44,9.2 48,8 47,8 45,5 42,4 40.8,4.2 39,3.5 36,4.5 35,5.5 33,7.8 34,8.4 34.5,11 36,12.5"],
["Djibouti","42.4,12.5 43.3,12.6 43.3,11.5 42.8,10.9 42,11"],
["Gambia","-16.8,13.2 -14,13.2 -14,13.7 -16.5,13.7"],
["Guinea-Bissau","-16.7,12.3 -13.7,12.5 -15,11"],
["Guinea","-15,11 -13.7,12.5 -11.4,12.2 -8.5,12.2 -8.3,11.3 -7,10.2 -8,10 -7.5,8 -8.5,7.5 -9.5,8.5 -10.5,8.3 -10.7,9.3 -12,10 -13,9.5"],
["Sierra Leone","-13.3,8.5 -11.5,6.9 -10.5,8.3 -10.7,9.3 -12,10 -13,9.5"],
["Liberia","-11.5,6.9 -7.5,4.4 -7.5,5 -8.5,7.5 -9.5,8.5 -10.5,8.3"],
["Cote d'Ivoire","-7.5,4.4 -3,5 -3.2,6.5 -2.8,9 -2.8,9.5 -5.5,10.4 -7,10.2 -8,10 -7.5,8 -8.5,7.5 -7.5,5"],
["Burkina Faso","-5.5,10.4 -2.8,9.5 -2.8,11 0,11 1,11 2.4,12.2 1,13 1,15 0,14.8 -2,14.2 -3.5,13.2 -4.5,12"],
["Ghana","-3,5 1.2,6.1 0.6,8 0,11 -2.8,11 -2.8,9 -3.2,6.5"],
["Togo","1.2,6.1 1.7,6.2 1.7,9 1,11 0,11 0.6,8"],
["Benin","1.7,6.2 2.7,6.4 2.7,9 3.5,11.7 2.4,12.2 1,11 1.7,9"],
["Nigeria","2.7,6.4 2.7,9 3.5,11.7 4,13.5 9,12.8 12,13 14,13 13,9 11.5,6.7 9.7,6 8.8,5 8,4.5 5.5,5 4.5,6.3"],
["Cameroon","8.5,4.5 9.8,2.3 11.3,2.3 13.3,2.2 16,2 16.5,3.5 15,6 15.5,7.5 14.5,9 15.5,10 14.5,12.8 14,13 13,9 11.5,6.7 9.7,6 8.8,5"],
["C.A.R.","15,6 16.5,3.5 18.5,3.5 20,4.5 22.5,4.2 25,5 27.5,5 25,5 23,8.7 22.8,11 19,9 15.5,7.5"],
["Eq. Guinea","9.5,1 11.3,1 11.3,2.3 9.8,2.3"],
["Congo","11.2,-4 12.5,-5 14,-4.5 15.5,-4 16,-2 17.5,-0.5 18,1.5 18.5,3.5 16.5,3.5 16,2 13.3,2.2 14,1.4 14.5,-2 12,-3"],
["Rwanda","29,-1.4 29.7,-1.2 30.5,-1 30.5,-2.4 29,-2.7"],
["Burundi","29,-2.7 30.5,-2.4 30.8,-3.4 29.5,-4.4"],
["Angola","12.2,-6 17.5,-6 19.5,-7 21.3,-7 22,-9.5 22.3,-11.1 24,-11.3 24,-13 22,-13 22,-16.2 23.4,-17.6 21,-18 14,-17.4 11.8,-17.3 13.5,-12.5 13.5,-9"],
["Thailand","97.2,19.3 100.3,20.4 101,17.4 104.3,18.2 105.3,15.1 102.3,13.6 102.3,12.1 100.5,12.9 99.9,13.4 99.8,11 99.5,9.8 99.8,7.6 101.5,5.7 100.3,6.6 98.2,8 98.2,9.5 98.8,11.5 98.5,14.4 97.5,17.4"]
];
const fiveToTenShapes = [
["Gabon","9.5,1 11.3,1 11.3,2.3 13.3,2.2 14,1.4 14.5,-2 12,-3 11.2,-4 9,-1.5"],
["Uganda","31,3.7 34,4.2 34.8,1.2 33.9,0 34,-1 30.5,-1 29.7,-1.2 29.7,0.5 31,2.2 29,4.5"],
["Kenya","34,4.2 35,5.5 36,4.5 39,3.5 40.8,4.2 41,3 41,-0.8 41.5,-1.7 39.3,-4.7 37.7,-3.5 34,-1 33.9,0 34.8,1.2"],
["Tanzania","30.5,-1 34,-1 37.7,-3.5 39.3,-4.7 38.8,-6.5 39.5,-8 40.4,-10.5 38,-11.3 34.9,-11.5 34.4,-9.5 33,-9.4 31,-8.6 30.7,-8.2 29.5,-6.5 29.5,-4.4 30.8,-3.4 30.5,-2.4"]
];
const overTenShapes = [
["Zambia","22,-13 24,-13 24,-11.3 25.5,-11.5 27.5,-12.2 29.5,-12.3 28.5,-11 28.7,-8.7 30.7,-8.2 31,-8.6 33,-9.4 33,-11 33,-14 30.2,-15.5 28.9,-16 27,-17.9 25.3,-17.8 23.4,-17.6 22,-16.2"],
["Malawi","33,-9.4 34.4,-9.5 34.9,-11.5 35.8,-15 35,-17 34.4,-14.5 33,-14 33,-11"],
["Mozambique","32,-22.3 32.8,-19 33,-17 30.4,-15.7 30.2,-15.5 33,-14 34.4,-14.5 35,-17 35.8,-15 34.9,-11.5 38,-11.3 40.4,-10.5 40.5,-15 36,-18.5 34.8,-20 35.5,-24 32.9,-26.8 32,-26"],
["Zimbabwe","25.3,-17.8 27,-17.9 28.9,-16 30.2,-15.5 30.4,-15.7 33,-17 32.8,-19 32,-22.3 29.3,-22.2 27,-20"],
["Botswana","20,-22 21,-22 21,-18.3 23.4,-18 25.3,-17.8 27,-20 29.3,-22.2 27,-23.6 26,-24.7 23,-25.3 20.8,-26.8 20,-24.8"],
["Namibia","11.8,-17.3 14,-17.4 21,-18 23.4,-17.6 25.3,-17.8 23.4,-18 21,-18.3 21,-22 20,-22 20,-28.4 17,-28.6 16.5,-28.6 14.5,-22.5"],
["South Africa","16.5,-28.6 17,-28.6 20,-28.4 20,-24.8 20.8,-26.8 23,-25.3 26,-24.7 27,-23.6 29.3,-22.2 32,-22.3 32,-26 31,-25.9 31,-27 32,-27 32.9,-26.8 32.5,-28.5 30,-31.3 26,-34 20,-34.8 18.4,-34.2 18,-32"],
["Lesotho","27,-29.6 28.5,-28.7 29.4,-29.6 28,-30.6"],
["Swaziland","31,-25.9 32,-26 32,-27 31,-27"]
];
const legendLabels = ["NA","<1% (98 countries)","1-5% (36 countries","5-10% (4 countries)",">10% (9 countries)"];
const classFills = ["#e0e0e0","#7cc5ee","#0071bd","#00508c","#14335c"];
const legendEdges = ["#000","#000","#000","#0a1450","#0a1450"];
const noteLines = ["NOTES: Data are estimates. Prevalence rates include adults ages 15-49. The estimate for Sudan represents data for South","Sudan. An estimate was provided for Sudan and is <1%.","SOURCE: Kaiser Family Foundation,","2012."];

const svg = d3.select("#c");
const sans = "'Noto Sans','Open Sans',sans-serif", serif = "'Liberation Serif',serif";
function txt(s,x,y,w,size,weight,fill,fam){
  return svg.append("text").attr("x",x).attr("y",y).attr("font-family",fam||sans).attr("font-size",size)
    .attr("font-weight",weight||400).attr("fill",fill||"#000").attr("textLength",w)
    .attr("lengthAdjust","spacingAndGlyphs").text(s);
}
txt("Adult HIV Prevalence Rate, 2011",61,153,1521,104,700);
txt("Global HIV/AIDS Prevalence Rate = 0.8%",842,363,1316,72,700);

const x = d3.scaleLinear().domain([-180,180]).range([332,2697]);
const y = d3.scaleLinear().domain([0,83.6]).range([1035,667]);
const path = d3.geoPath(d3.geoTransform({point(a,b){this.stream.point(x(a),y(b));}}));
const parse = s => ({type:"MultiPolygon",coordinates:s.split("|").map(r=>{
  const ring = r.trim().split(/\s+/).map(p=>p.split(",").map(Number));
  ring.push(ring[0]); return [ring];})});
[naShapes,underOneShapes,oneToFiveShapes,fiveToTenShapes,overTenShapes].forEach((set,i)=>{
  svg.append("g").selectAll("path").data(set).join("path")
    .attr("d",d=>path(parse(d[1]))).attr("fill",classFills[i])
    .attr("stroke","#1c1c1c").attr("stroke-width",1.3).attr("stroke-linejoin","round")
    .append("title").text(d=>d[0]);
});

const swatchY = [1529,1612,1687,1762,1844], labelY=[1577,1661,1735,1811,1893], labelX=[1597,1595,1595,1595,1595], labelW=[71,467,476,494,467];
legendLabels.forEach((l,i)=>{
  svg.append("rect").attr("x",1513.5).attr("y",swatchY[i]+1.5).attr("width",49).attr("height",49)
    .attr("fill",classFills[i]).attr("stroke",legendEdges[i]).attr("stroke-width",3);
  txt(l,labelX[i],labelY[i],labelW[i],54,700);
});

txt(noteLines[0],61,2015,2617,47);
txt(noteLines[1],61,2075,1196,47);
txt(noteLines[2],61,2135,752,47);
txt("www.GlobalHealthFacts.org",829,2135,592,47,400,"#a89a70");
svg.append("rect").attr("x",829).attr("y",2140).attr("width",597).attr("height",5).attr("fill","#a89a70");
txt(",",1434,2135,8,47);
txt("based on UNAIDS, Report on the Global AIDS Epidemic;",1458,2135,1190,47);
txt(noteLines[3],61,2195,129,47);

svg.append("rect").attr("x",2790).attr("y",2040).attr("width",180).attr("height",180).attr("fill","#14365f");
const lg="#e8edf2";
txt("THE HENRY J.",2800,2071,160,23,400,lg,serif);
svg.append("rect").attr("x",2800).attr("y",2078.5).attr("width",160).attr("height",1.5).attr("fill","#c8d2de");
txt("KAISER",2799,2127,167,53,400,lg,serif);
txt("FAMILY",2798,2174,163,53,400,lg,serif);
svg.append("rect").attr("x",2800).attr("y",2183).attr("width",160).attr("height",2).attr("fill","#a8b8cc");
txt("FOUNDATION",2800,2209,161,23,400,lg,serif);
</script></body></html>
